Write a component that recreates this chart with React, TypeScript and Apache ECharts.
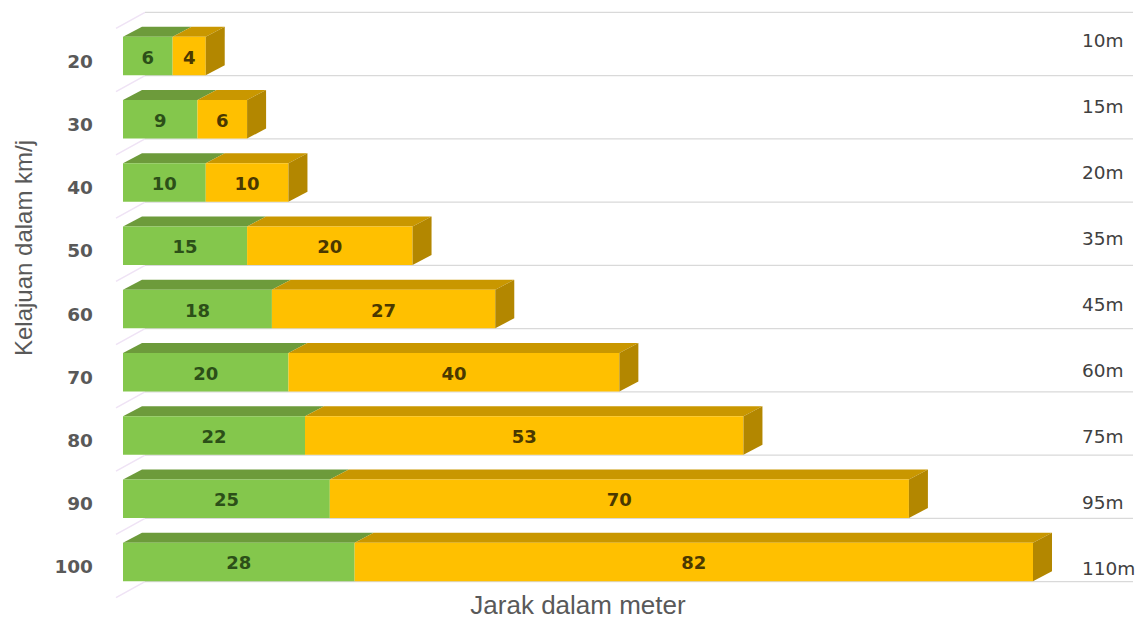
import React, { useEffect, useRef } from "react";
import * as echarts from "echarts";

const categories = ["20", "30", "40", "50", "60", "70", "80", "90", "100"];
const reactionDistance = [6, 9, 10, 15, 18, 20, 22, 25, 28];
const brakingDistance = [4, 6, 10, 20, 27, 40, 53, 70, 82];
const totalLabels = ["10m", "15m", "20m", "35m", "45m", "60m", "75m", "95m", "110m"];

const DX = 19;
const DY = 10;

function makeBarRender(front: string, top: string, side: string, labelColor: string) {
  return (params: any, api: any) => {
    const idx = api.value(0);
    const start = api.value(1);
    const end = api.value(2);
    const isLast = api.value(3) === 1;
    const val = api.value(4);
    const c0 = api.coord([start, idx]);
    const c1 = api.coord([end, idx]);
    const band = api.size([0, 1])[1];
    const h = band * 0.61;
    const x0 = c0[0];
    const x1 = c1[0];
    const y0 = c0[1] - h / 2;
    const children: any[] = [
      {
        type: "polygon",
        shape: { points: [[x0, y0], [x1, y0], [x1 + DX, y0 - DY], [x0 + DX, y0 - DY]] },
        style: { fill: top },
      },
      {
        type: "rect",
        shape: { x: x0, y: y0, width: x1 - x0, height: h },
        style: { fill: front },
      },
    ];
    if (isLast) {
      children.push({
        type: "polygon",
        shape: { points: [[x1, y0], [x1 + DX, y0 - DY], [x1 + DX, y0 - DY + h], [x1, y0 + h]] },
        style: { fill: side },
      });
    }
    children.push({
      type: "text",
      x: (x0 + x1) / 2,
      y: c0[1] + 1,
      style: {
        text: String(val),
        fill: labelColor,
        font: "bold 18px 'DejaVu Sans'",
        textAlign: "center",
        textVerticalAlign: "middle",
      },
    });
    return { type: "group", children };
  };
}

export default function App() {
  const ref = useRef<HTMLDivElement>(null);
  useEffect(() => {
    if (!ref.current) return;
    const chart = echarts.init(ref.current, undefined, { renderer: "svg" });

    const greenData = categories.map((_, i) => [i, 0, reactionDistance[i], 0, reactionDistance[i]]);
    const yellowData = categories.map((_, i) => [
      i,
      reactionDistance[i],
      reactionDistance[i] + brakingDistance[i],
      1,
      brakingDistance[i],
    ]);
    const gridData = categories.map((_, i) => [i, 0]);

    const option: any = {
      animation: false,
      backgroundColor: "#ffffff",
      grid: [
        { left: 123, right: 107, top: 24.4, bottom: 28.4 },
        { left: 123, right: 68, top: 7, bottom: 21 },
      ],
      xAxis: [
        { type: "value", min: 0, max: 110, show: false, gridIndex: 0 },
        { type: "value", min: 0, max: 110, show: false, gridIndex: 1 },
      ],
      yAxis: [
        {
          type: "category",
          gridIndex: 0,
          inverse: true,
          data: categories,
          axisLine: { show: false },
          axisTick: { show: false },
          splitLine: { show: false },
          axisLabel: {
            margin: 30,
            formatter: "{a|{value}}",
            rich: {
              a: {
                color: "#595959",
                fontFamily: "DejaVu Sans",
                fontWeight: "bold",
                fontSize: 18.5,
                padding: [10, 0, 0, 0],
              },
            },
          },
        },
        {
          type: "category",
          gridIndex: 1,
          position: "right",
          inverse: true,
          data: totalLabels,
          axisLine: { show: false },
          axisTick: { show: false },
          splitLine: { show: false },
          axisLabel: {
            margin: 10,
            color: "#404040",
            fontFamily: "DejaVu Sans",
            fontSize: 18.5,
          },
        },
      ],
      graphic: [
        {
          type: "text",
          x: 23,
          y: 248,
          rotation: Math.PI / 2,
          style: {
            text: "Kelajuan dalam km/j",
            font: "24px 'Liberation Sans'",
            fill: "#595959",
            textAlign: "center",
            textVerticalAlign: "middle",
          },
        },
        {
          type: "text",
          x: 578,
          y: 605,
          style: {
            text: "Jarak dalam meter",
            font: "26px 'Liberation Sans'",
            fill: "#595959",
            textAlign: "center",
            textVerticalAlign: "middle",
          },
        },
      ],
      series: [
        {
          type: "custom",
          name: "grid",
          xAxisIndex: 0,
          yAxisIndex: 0,
          silent: true,
          z: 1,
          encode: { x: 1, y: 0 },
          data: gridData,
          renderItem: (params: any, api: any) => {
            const idx = api.value(0);
            const c = api.coord([0, idx]);
            const band = api.size([0, 1])[1];
            const ys = [c[1] - band / 2 - 12];
            if (idx === categories.length - 1) ys.push(c[1] + band / 2 - 12);
            const children: any[] = [];
            ys.forEach((yb) => {
              children.push({
                type: "line",
                shape: { x1: c[0] - 7, y1: yb + 16, x2: c[0] + 22, y2: yb },
                style: { stroke: "#efe3f5", lineWidth: 1.5 },
              });
              children.push({
                type: "line",
                shape: { x1: c[0] + 22, y1: yb, x2: 1133, y2: yb },
                style: { stroke: "#d9d9d9", lineWidth: 1.2 },
              });
            });
            return { type: "group", children };
          },
        },
        {
          type: "custom",
          name: "Reaksi",
          xAxisIndex: 0,
          yAxisIndex: 0,
          z: 2,
          encode: { x: [1, 2], y: 0 },
          data: greenData,
          renderItem: makeBarRender("#84c74c", "#6d9b3b", "#5f8a33", "#2c4f18"),
        },
        {
          type: "custom",
          name: "Brek",
          xAxisIndex: 0,
          yAxisIndex: 0,
          z: 3,
          encode: { x: [1, 2], y: 0 },
          data: yellowData,
          renderItem: makeBarRender("#ffc000", "#c99700", "#b38700", "#4a3800"),
        },
      ],
    };
    chart.setOption(option);
    return () => chart.dispose();
  }, []);
  return (
    <div
      ref={ref}
      style={{ position: "fixed", left: 0, top: 0, width: 1140, height: 622 }}
    />
  );
}
